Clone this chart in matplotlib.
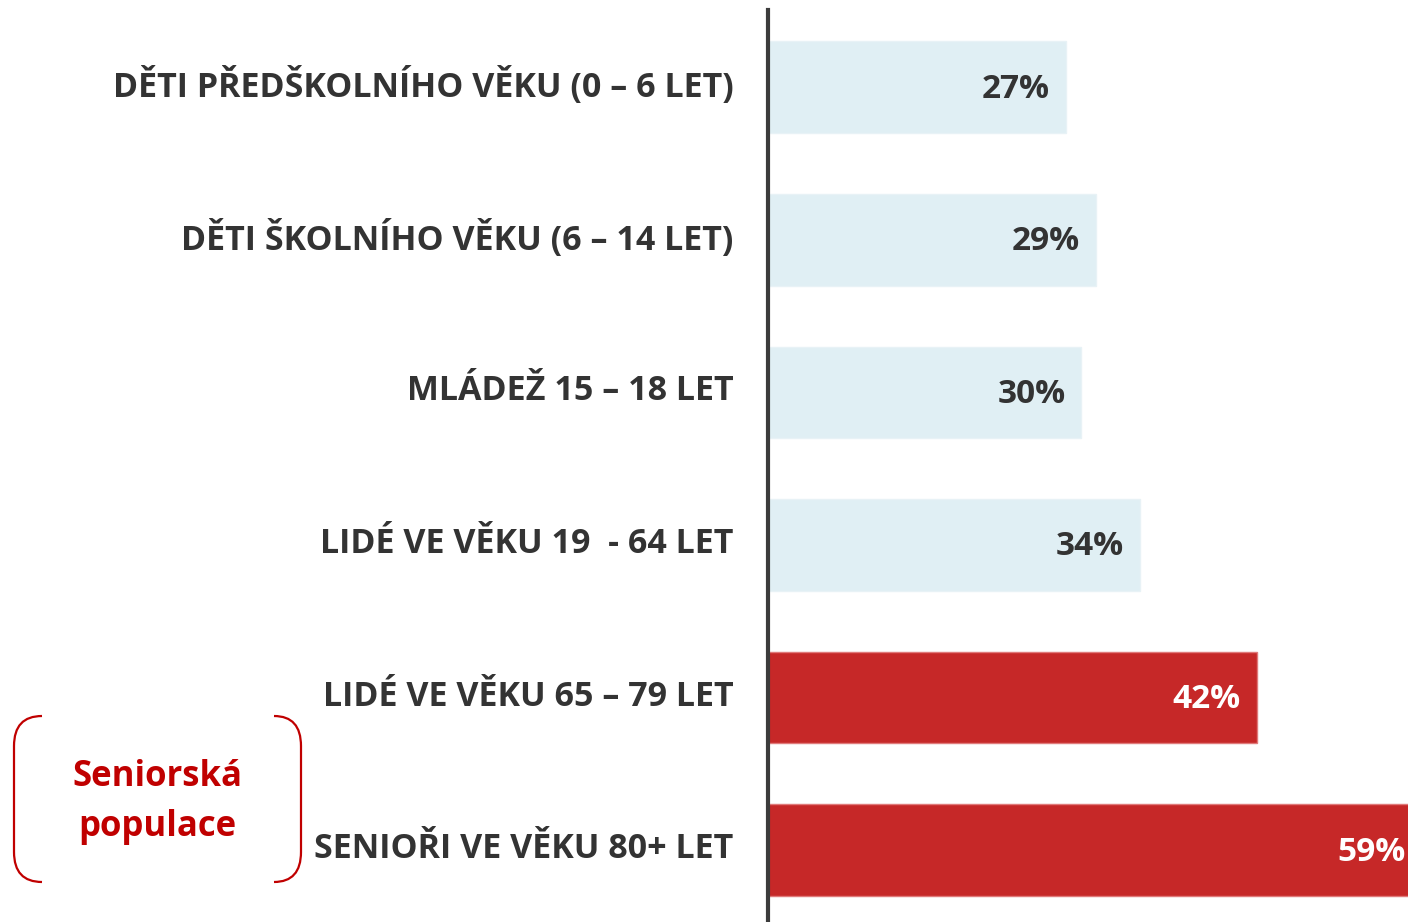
import matplotlib
matplotlib.use("Agg")
import matplotlib.pyplot as plt
from matplotlib.path import Path
from matplotlib.patches import PathPatch
from matplotlib.transforms import ScaledTranslation

categories = [
    "DĚTI PŘEDŠKOLNÍHO VĚKU (0 – 6 LET)",
    "DĚTI ŠKOLNÍHO VĚKU (6 – 14 LET)",
    "MLÁDEŽ 15 – 18 LET",
    "LIDÉ VE VĚKU 19  - 64 LET",
    "LIDÉ VE VĚKU 65 – 79 LET",
    "SENIOŘI VE VĚKU 80+ LET",
]
bar_values = [27, 29.7, 28.4, 33.7, 44.3, 59]
value_labels = ["27%", "29%", "30%", "34%", "42%", "59%"]
is_senior = [False, False, False, False, True, True]
group_label = "Seniorská\npopulace"

LIGHT = "#E0EFF4"
RED = "#C62828"
TEXT = "#333333"

plt.rcParams['font.family'] = ['Open Sans', 'DejaVu Sans']

W, H = 1408, 922
fig = plt.figure(figsize=(W / 100, H / 100), dpi=100)
ax = fig.add_axes([768 / W, 0, 640 / W, (922 - 10) / H])

y = list(range(len(categories)))
colors = [RED if s else LIGHT for s in is_senior]
ax.barh(y, bar_values, height=0.6, color=colors,
        edgecolor=["#E07A7A" if s else "#E8F2F6" for s in is_senior], linewidth=1)
ax.set_xlim(0, 58)
ax.set_ylim(5.47, -0.505)

for yi, v, lab, s in zip(y, bar_values, value_labels, is_senior):
    xv = min(v, 58)
    ax.annotate(lab, xy=(xv, yi), xytext=(-16 if v < 58 else -2, -2),
                textcoords="offset pixels",
                ha="right", va="center", fontsize=24, fontweight="bold",
                color="white" if s else TEXT)

ax.set_yticks(y)
ax.set_yticklabels(categories, fontsize=24.5, fontweight="bold", color=TEXT,
                   va="center_baseline")
ax.tick_params(axis="y", length=0, pad=25)
shift = ScaledTranslation(0, 5 / 100, fig.dpi_scale_trans)
for t in ax.get_yticklabels():
    t.set_transform(t.get_transform() + shift)
ax.set_xticks([])
for sp in ["top", "right", "bottom"]:
    ax.spines[sp].set_visible(False)
ax.spines["left"].set_color("#3c3c3c")
ax.spines["left"].set_linewidth(3)

# bracket decoration
def fx(px):
    return px / W

def fy(py):
    return 1 - py / H

def bracket(xe, xs, ytop, ybot, r=30):
    verts = [(fx(xe), fy(ytop)),
             (fx(xs), fy(ytop)), (fx(xs), fy(ytop + r)),
             (fx(xs), fy(ybot - r)),
             (fx(xs), fy(ybot)), (fx(xe), fy(ybot))]
    codes = [Path.MOVETO, Path.CURVE3, Path.CURVE3, Path.LINETO, Path.CURVE3, Path.CURVE3]
    p = PathPatch(Path(verts, codes), transform=fig.transFigure, fill=False,
                  edgecolor="#C00000", linewidth=1.6)
    fig.add_artist(p)

bracket(42, 14, 716, 882)
bracket(274, 301, 716, 882)

fig.text(fx(157), fy(802), group_label, ha="center", va="center",
         fontsize=25, fontweight="bold", color="#C00000", linespacing=1.55)

fig.savefig("out.png", dpi=100)
